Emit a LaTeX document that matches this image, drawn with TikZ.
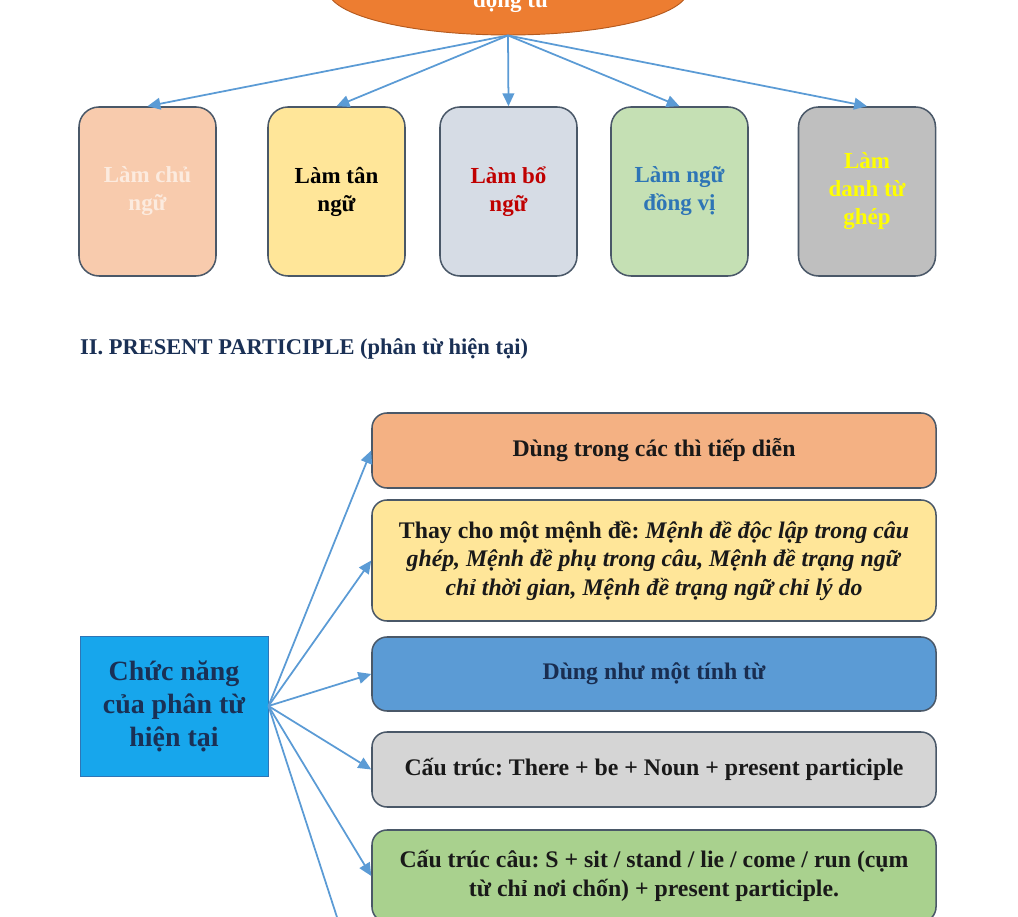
\documentclass[tikz,border=0pt]{standalone}
\usepackage{fontspec}
\setmainfont{Liberation Serif}
\usepackage{xcolor}
\usepackage{tikz}
\usetikzlibrary{arrows.meta,shapes.geometric}
\frenchspacing
\definecolor{rootorange}{HTML}{ED7D31}
\definecolor{rootedge}{HTML}{B55A1E}
\definecolor{cardline}{HTML}{4A5868}
\definecolor{flowblue}{HTML}{5B9BD5}
\definecolor{navytext}{HTML}{1F3864}
\definecolor{peachfill}{HTML}{F8CBAD}
\definecolor{peachtext}{HTML}{FCEBDF}
\definecolor{butterfill}{HTML}{FFE699}
\definecolor{slatefill}{HTML}{D6DCE5}
\definecolor{redtext}{HTML}{C00000}
\definecolor{sagefill}{HTML}{C5E0B4}
\definecolor{bluetext}{HTML}{2E75B6}
\definecolor{greyfill}{HTML}{BFBFBF}
\definecolor{yellowtext}{HTML}{FFFF00}
\definecolor{apricotfill}{HTML}{F4B183}
\definecolor{mediumblue}{HTML}{5B9BD5}
\definecolor{silverfill}{HTML}{D5D5D5}
\definecolor{grassfill}{HTML}{A9D18E}
\definecolor{hubfill}{HTML}{17A6EC}
\definecolor{hubedge}{HTML}{2E75B6}
\tikzset{
  gerroot/.style={ellipse, fill=rootorange, draw=rootedge, line width=0.8pt, minimum width=10.8cm, minimum height=2.7cm, inner sep=0pt},
  gerlabel/.style={anchor=base, text=white, font=\bfseries\fontsize{19.6}{23.9}\selectfont},
  gercard/.style={rectangle, rounded corners=0.6cm, draw=cardline, line width=1.3pt, minimum width=4.11cm, minimum height=5.07cm, align=center, font=\bfseries\fontsize{19.6}{23.9}\selectfont},
  parthead/.style={anchor=base west, text=navytext!85!black, font=\bfseries\fontsize{19.2}{23}\selectfont, inner sep=0pt},
  parthub/.style={rectangle, fill=hubfill, draw=hubedge, line width=0.8pt, minimum width=5.64cm, minimum height=4.2cm, align=center, text=navytext!85!black, font=\bfseries\fontsize{23.8}{28.2}\selectfont},
  partcard/.style={rectangle, rounded corners=0.45cm, draw=cardline, line width=1.3pt, minimum width=16.92cm, align=center, text=black!90, font=\bfseries\fontsize{20.3}{24.3}\selectfont},
  flowarrow/.style={draw=flowblue, line width=1.5pt, -{Triangle[length=11pt,width=10pt]}},
}
\begin{document}
\begin{tikzpicture}
\useasboundingbox (0,0) rectangle (30.54,27.51);
\node[gerroot] (root) at (15.240,27.810) {};
\node[gerlabel] (rootlbl) at (15.330,27.270) {động từ};
\node[gercard, fill=peachfill, text=peachtext] (lamchu) at (4.425,21.765) {Làm chủ\\ngữ};
\node[gercard, fill=butterfill, text=black] (lamtan) at (10.095,21.765) {Làm tân\\ngữ};
\node[gercard, fill=slatefill, text=redtext] (lambo) at (15.255,21.765) {Làm bổ\\ngữ};
\node[gercard, fill=sagefill, text=bluetext] (lamdongvi) at (20.385,21.765) {Làm ngữ\\đồng vị};
\node[gercard, fill=greyfill, text=yellowtext] (lamghep) at (26.010,21.765) {Làm\\danh từ\\ghép};
\draw[flowarrow] (root.south) -- (lamchu.north);
\draw[flowarrow] (root.south) -- (lamtan.north);
\draw[flowarrow] (root.south) -- (lambo.north);
\draw[flowarrow] (root.south) -- (lamdongvi.north);
\draw[flowarrow] (root.south) -- (lamghep.north);
\node[parthead] (heading) at (2.400,16.860) {II. PRESENT PARTICIPLE (phân từ hiện tại)};
\node[parthub] (hub) at (5.220,6.330) {Chức năng\\của phân từ\\hiện tại};
\node[partcard, fill=apricotfill, minimum height=2.25cm] (tiepdien) at (19.620,13.995) {Dùng trong các thì tiếp diễn};
\node[partcard, fill=butterfill, minimum height=3.63cm] (menhde) at (19.620,10.695) {Thay cho một mệnh đề: \textit{Mệnh đề độc lập trong câu}\\\textit{ghép, Mệnh đề phụ trong câu, Mệnh đề trạng ngữ}\\\textit{chỉ thời gian, Mệnh đề trạng ngữ chỉ lý do}};
\node[partcard, fill=mediumblue, text=navytext!80!black, minimum height=2.22cm] (tinhtu) at (19.620,7.290) {Dùng như một tính từ};
\node[partcard, fill=silverfill, minimum height=2.25cm] (there) at (19.620,4.425) {Cấu trúc: There + be + Noun + present participle};
\node[partcard, fill=grassfill, minimum height=2.76cm] (noichon) at (19.620,1.230) {Cấu trúc câu: S + sit / stand / lie / come / run (cụm\\từ chỉ nơi chốn) + present participle.};
\coordinate (hubnext) at (11.160,-3.240);
\draw[flowarrow] (hub.east) -- (tiepdien.west);
\draw[flowarrow] (hub.east) -- (menhde.west);
\draw[flowarrow] (hub.east) -- (tinhtu.west);
\draw[flowarrow] (hub.east) -- (there.west);
\draw[flowarrow] (hub.east) -- (noichon.west);
\draw[flowarrow] (hub.east) -- (hubnext);
\end{tikzpicture}
\end{document}
